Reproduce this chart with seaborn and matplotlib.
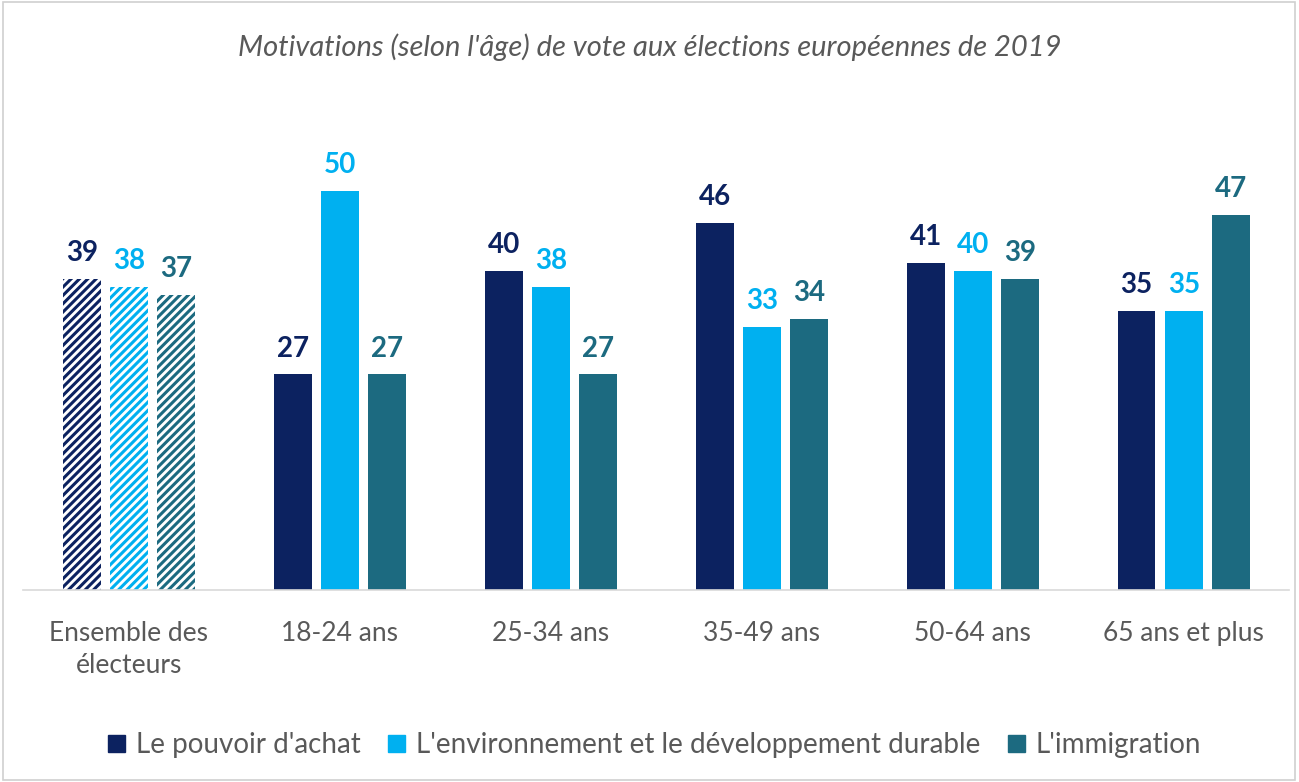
import matplotlib
matplotlib.use("Agg")
import matplotlib.pyplot as plt
import matplotlib.patches as mpatches
import pandas as pd
import seaborn as sns

categories = ["Ensemble des\nélecteurs", "18-24 ans", "25-34 ans", "35-49 ans", "50-64 ans", "65 ans et plus"]
series = ["Le pouvoir d'achat", "L'environnement et le développement durable", "L'immigration"]
pouvoir_achat = [39, 27, 40, 46, 41, 35]
environnement = [38, 50, 38, 33, 40, 35]
immigration = [37, 27, 27, 34, 39, 47]
colors = ["#0c2260", "#00b0f0", "#1c6a80"]

df = pd.DataFrame({
    "categorie": categories * 3,
    "motivation": [s for s in series for _ in categories],
    "valeur": pouvoir_achat + environnement + immigration,
})

sns.set_theme(style="white")
plt.rcParams["font.family"] = ["Lato", "DejaVu Sans"]
plt.rcParams["hatch.linewidth"] = 2.2
text_grey = "#595959"

fig = plt.figure(figsize=(12.99, 7.82), dpi=100)
ax = fig.add_axes([0.018, 0.2455, 0.9745, 0.6125])

sns.barplot(data=df, x="categorie", y="valeur", hue="motivation",
            palette=colors, width=0.67, gap=0.2, ax=ax,
            saturation=1, legend=False, linewidth=0)

for cont, col in zip(ax.containers, colors):
    # first group ("Ensemble") drawn with diagonal hatching
    bar = cont.patches[0]
    bar.set_facecolor("white")
    bar.set_edgecolor(col)
    bar.set_hatch("////")
    bar.set_linewidth(0)
    ax.bar_label(cont, padding=9, color=col, fontsize=20, fontweight="bold")

ax.set_ylim(0, 60)
ax.set_xlim(-0.5, 5.5)
ax.set_xlabel("")
ax.set_ylabel("")
ax.set_yticks([])
sns.despine(ax=ax, left=True, top=True, right=True)
ax.spines["bottom"].set_color("#d9d9d9")
ax.spines["bottom"].set_linewidth(1.2)
ax.tick_params(axis="x", length=0, pad=22, labelsize=19, labelcolor=text_grey)
for lbl in ax.get_xticklabels():
    lbl.set_linespacing(1.35)

fig.text(0.5, 0.94, "Motivations (selon l'âge) de vote aux élections européennes de 2019",
         ha="center", va="center", fontsize=21, style="italic", color=text_grey)

handles = [mpatches.Patch(color=c, label=s) for c, s in zip(colors, series)]
fig.legend(handles=handles, loc="center", bbox_to_anchor=(0.504, 0.047), ncol=3,
           frameon=False, fontsize=20, labelcolor=text_grey, handlelength=0.6,
           handleheight=0.6, handletextpad=0.4, columnspacing=1.0)

fig.patches.append(mpatches.Rectangle((0.002, 0.003), 0.995, 0.994, transform=fig.transFigure,
                                      fill=False, edgecolor="#d0d0d0", linewidth=1.2))

fig.savefig("out.png", dpi=100)
